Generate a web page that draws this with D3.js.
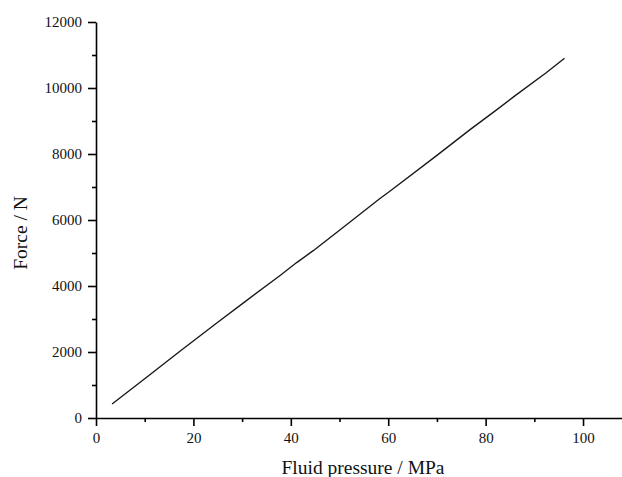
<!DOCTYPE html>
<html>
<head>
<meta charset="utf-8">
<script src="https://cdn.jsdelivr.net/npm/d3@7"></script>
<style>
  body { margin: 0; background: #fff; }
</style>
</head>
<body>
<div id="chart"></div>
<script>
// data
var pressure = [3.3, 10, 17.3, 25, 30, 37.8, 41.2, 44.6, 50, 58.3, 60.4, 70, 76.8, 81.9, 86, 92.5, 96.2];
var force = [424, 1190, 2030, 2900, 3460, 4320, 4710, 5070, 5690, 6650, 6880, 7960, 8740, 9300, 9760, 10470, 10900];
var xTicks = [0, 20, 40, 60, 80, 100];
var xMinor = [10, 30, 50, 70, 90];
var yTicks = [0, 2000, 4000, 6000, 8000, 10000, 12000];
var yMinor = [1000, 3000, 5000, 7000, 9000, 11000];

var serif = "Liberation Serif";
var width = 622, height = 477;
var margin = { top: 22, right: 0, bottom: 59, left: 96 };

var svg = d3.select("#chart").append("svg")
    .attr("width", width)
    .attr("height", height);

var xScale = d3.scaleLinear()
    .domain([0, 108])
    .range([margin.left, width - margin.right]);

var yScale = d3.scaleLinear()
    .domain([0, 12000])
    .range([height - margin.bottom, margin.top]);

// minor ticks first, then the labelled axes on top
svg.append("g")
    .attr("transform", `translate(0, ${height - margin.bottom})`)
    .call(d3.axisBottom(xScale).tickValues(xMinor).tickSize(4).tickSizeOuter(0).tickFormat(""))
    .call(g => g.select(".domain").remove());

svg.append("g")
    .attr("transform", `translate(${margin.left}, 0)`)
    .call(d3.axisLeft(yScale).tickValues(yMinor).tickSize(4).tickSizeOuter(0).tickFormat(""))
    .call(g => g.select(".domain").remove());

svg.append("g")
    .attr("transform", `translate(0, ${height - margin.bottom})`)
    .call(d3.axisBottom(xScale).tickValues(xTicks).tickSize(8).tickSizeOuter(0).tickPadding(6).tickFormat(d3.format("d")));

svg.append("g")
    .attr("transform", `translate(${margin.left}, 0)`)
    .call(d3.axisLeft(yScale).tickValues(yTicks).tickSize(8).tickSizeOuter(0).tickPadding(6).tickFormat(d3.format("d")));

svg.selectAll(".domain, .tick line")
    .attr("stroke", "#000")
    .attr("stroke-width", 1.6);

svg.selectAll(".tick text")
    .attr("font-family", serif)
    .attr("font-size", 15)
    .attr("fill", "#111");

// force curve
var line = d3.line()
    .x((d, i) => xScale(pressure[i]))
    .y(d => yScale(d));

svg.append("path")
    .datum(force)
    .attr("d", line)
    .attr("fill", "none")
    .attr("stroke", "#1a1a1a")
    .attr("stroke-width", 1.4);

// axis titles
svg.append("text")
    .attr("x", 363)
    .attr("y", 474)
    .attr("text-anchor", "middle")
    .attr("font-family", serif)
    .attr("font-size", 19.5)
    .attr("fill", "#111")
    .text("Fluid pressure / MPa");

svg.append("text")
    .attr("transform", "translate(27, 233) rotate(-90)")
    .attr("text-anchor", "middle")
    .attr("font-family", serif)
    .attr("font-size", 19.5)
    .attr("fill", "#111")
    .text("Force / N");
</script>
</body>
</html>
